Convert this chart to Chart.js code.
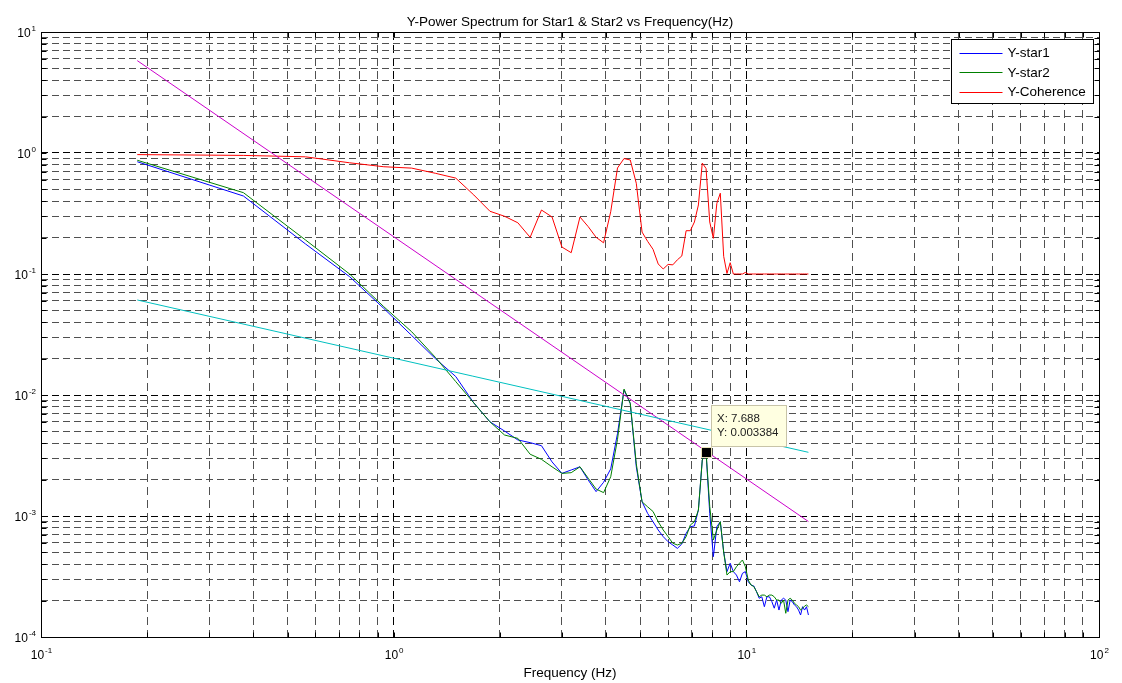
<!DOCTYPE html>
<html>
<head>
<meta charset="utf-8">
<title>Y-Power Spectrum for Star1 &amp; Star2</title>
<script src="https://cdn.jsdelivr.net/npm/chart.js@4.4.1/dist/chart.umd.min.js"></script>
<style>
  html, body { margin: 0; padding: 0; background: #fff; }
  #wrap { width: 1122px; height: 683px; position: relative; }
</style>
</head>
<body>
<div id="wrap"><canvas id="psd"></canvas></div>
<script>
// ===================== DATA ===================== //
// frequency bins (Hz)
const freq = [
  0.1875, 0.375, 0.5625, 0.75, 0.9375, 1.125, 1.3125, 1.5, 1.6875, 1.875,
  2.0625, 2.25, 2.4375, 2.625, 2.8125, 3.0, 3.1875, 3.375, 3.5625, 3.75,
  3.9375, 4.125, 4.3125, 4.5, 4.6875, 4.875, 5.0625, 5.25, 5.4375, 5.625,
  5.8125, 6.0, 6.1875, 6.375, 6.5625, 6.75, 6.9375, 7.125, 7.3125, 7.5,
  7.6875, 7.875, 8.0625, 8.25, 8.4375, 8.625, 8.8125, 9.0, 9.1875, 9.375,
  9.5625, 9.75, 9.9375, 10.125, 10.3125, 10.5, 10.6875, 10.875, 11.0625, 11.25,
  11.4375, 11.625, 11.8125, 12.0, 12.1875, 12.375, 12.5625, 12.75, 12.9375, 13.125,
  13.3125, 13.5, 13.6875, 13.875, 14.0625, 14.25, 14.4375, 14.625, 14.8125, 15.0
];

// Y-star1 (azul)
const star1 = [
  0.847, 0.441, 0.177, 0.095, 0.052, 0.031, 0.020, 0.0142, 0.0086, 0.0060,
  0.00504, 0.00425, 0.00404, 0.00381, 0.0028, 0.00225, 0.0024, 0.00255, 0.00198, 0.00159,
  0.0019, 0.00245, 0.0048, 0.011, 0.0085, 0.00255, 0.00131, 0.00105, 0.000897, 0.000766,
  0.000675, 0.000613, 0.000576, 0.00054, 0.000587, 0.000719, 0.000816, 0.000827, 0.00112, 0.0029,
  0.003384, 0.00105, 0.000461, 0.000816, 0.000897, 0.000504, 0.000347, 0.000407, 0.000347, 0.000325,
  0.000286, 0.000336, 0.000347, 0.000286, 0.000269, 0.000264, 0.000237, 0.000209, 0.000215, 0.000178,
  0.000215, 0.000215, 0.000196, 0.000173, 0.000202, 0.000167, 0.000202, 0.000209, 0.000202, 0.000162,
  0.000202, 0.000196, 0.000184, 0.000178, 0.000167, 0.000152, 0.000178, 0.000167, 0.000178, 0.000152
];

// Y-star2 (verde)
const star2 = [
  0.871, 0.470, 0.191, 0.100, 0.0537, 0.0333, 0.0205, 0.0129, 0.0086, 0.0060,
  0.00467, 0.00438, 0.00324, 0.00294, 0.00255, 0.00225, 0.00228, 0.00255, 0.00205, 0.00167,
  0.00156, 0.00211, 0.0043, 0.0112, 0.0085, 0.0027, 0.00131, 0.00119, 0.00109, 0.000897,
  0.000766, 0.000675, 0.000595, 0.000576, 0.000595, 0.000675, 0.000843, 0.000897, 0.00112, 0.0029,
  0.003384, 0.0012, 0.000634, 0.000766, 0.000897, 0.000504, 0.000325, 0.000347, 0.000347, 0.000381,
  0.000407, 0.000433, 0.000381, 0.000296, 0.000269, 0.000261, 0.000237, 0.000215, 0.000222, 0.000222,
  0.000215, 0.000222, 0.000222, 0.000215, 0.000202, 0.000202, 0.00019, 0.000202, 0.000157, 0.000202,
  0.000209, 0.000202, 0.00019, 0.000184, 0.000178, 0.000167, 0.000173, 0.00018, 0.000184, 0.000178
];

// Y-Coherence (vermelho)
const coherence = [
  0.97, 0.955, 0.93, 0.83, 0.77, 0.75, 0.68, 0.62, 0.45, 0.33,
  0.30, 0.265, 0.201, 0.338, 0.296, 0.167, 0.150, 0.296, 0.246, 0.201,
  0.181, 0.327, 0.752, 0.90, 0.875, 0.562, 0.222, 0.186, 0.16, 0.121,
  0.110, 0.120, 0.119, 0.131, 0.141, 0.228, 0.228, 0.269, 0.372, 0.826,
  0.745, 0.269, 0.197, 0.384, 0.465, 0.14, 0.101, 0.124, 0.1, 0.1,
  0.1, 0.1, 0.103, 0.1, 0.1, 0.1, 0.1, 0.1, 0.1, 0.1,
  0.1, 0.1, 0.1, 0.1, 0.1, 0.1, 0.1, 0.1, 0.1, 0.1,
  0.1, 0.1, 0.1, 0.1, 0.1, 0.1, 0.1, 0.1, 0.1, 0.1
];

// retas de referência (magenta e ciano)
const refFreq = [0.1875, 15.0];
const slopeRef = [5.8, 0.0009];
const noiseRef = [0.061, 0.00336];

// eixos: expoentes das décadas
const xTickExps = [-1, 0, 1, 2];
const yTickExps = [-4, -3, -2, -1, 0, 1];

// data tip
const tipX = 7.6875;
const tipY = 0.003384;
const tipLabels = ['X: 7.688', 'Y: 0.003384'];

const TITLE = 'Y-Power Spectrum for Star1 & Star2 vs Frequency(Hz)';
const XLABEL = 'Frequency (Hz)';
const FONT = '"Liberation Sans", Arial, Helvetica, sans-serif';

// ===================== HELPERS ===================== //
function toPoints(xs, ys) {
  return xs.map((x, i) => ({ x: x, y: ys[i] }));
}

// 1..9 x 10^n em cada década
function logTicks(exps) {
  const ticks = [];
  exps.forEach((e, i) => {
    ticks.push({ value: Math.pow(10, e), major: true });
    if (i < exps.length - 1) {
      for (let m = 2; m <= 9; m++) ticks.push({ value: m * Math.pow(10, e), major: false });
    }
  });
  return ticks;
}

function logAxis(exps, dash) {
  return {
    type: 'logarithmic',
    min: Math.pow(10, exps[0]),
    max: Math.pow(10, exps[exps.length - 1]),
    afterBuildTicks: s => { s.ticks = logTicks(exps); },
    ticks: { display: false },
    grid: {
      drawTicks: false,
      lineWidth: 1,
      color: c => (c.tick && c.tick.major ? '#000' : '#505050')
    },
    border: { display: false, dash: dash }
  };
}

// "10" + expoente sobrescrito
function drawPow(ctx, e, px, py, mode) {
  const base = '10', sup = String(e);
  ctx.font = '12px ' + FONT;
  const wb = ctx.measureText(base).width;
  ctx.font = '8px ' + FONT;
  const ws = ctx.measureText(sup).width;
  let left, baseY, supY;
  if (mode === 'x') {
    left = px - (wb + ws) / 2;
    baseY = py + 22;
    supY = py + 16;
  } else {
    left = px - 6 - (wb + ws);
    baseY = py + 4.5;
    supY = py - 1;
  }
  ctx.textAlign = 'left';
  ctx.textBaseline = 'alphabetic';
  ctx.font = '12px ' + FONT;
  ctx.fillText(base, left, baseY);
  ctx.font = '8px ' + FONT;
  ctx.fillText(sup, left + wb + 1, supY);
}

// ===================== PLUGIN (visual MATLAB) ===================== //
const matlabLook = {
  id: 'matlabLook',
  afterDatasetsDraw(chart) {
    const { ctx, chartArea: a, scales } = chart;
    const xs = scales.x, ys = scales.y;
    const L = Math.round(a.left) + 0.5, R = Math.round(a.right) + 0.5;
    const T = Math.round(a.top) + 0.5, B = Math.round(a.bottom) + 0.5;
    ctx.save();
    ctx.setLineDash([]);
    ctx.strokeStyle = '#000';
    ctx.lineWidth = 1;

    // marcas internas
    ctx.beginPath();
    xs.ticks.forEach(t => {
      const px = Math.round(xs.getPixelForValue(t.value)) + 0.5;
      ctx.moveTo(px, B); ctx.lineTo(px, B - 5);
      ctx.moveTo(px, T); ctx.lineTo(px, T + 5);
    });
    ys.ticks.forEach(t => {
      const py = Math.round(ys.getPixelForValue(t.value)) + 0.5;
      ctx.moveTo(L, py); ctx.lineTo(L + 5, py);
      ctx.moveTo(R, py); ctx.lineTo(R - 5, py);
    });
    ctx.stroke();

    // caixa dos eixos
    ctx.strokeRect(L, T, R - L, B - T);

    // rótulos dos eixos
    ctx.fillStyle = '#000';
    xTickExps.forEach(e => drawPow(ctx, e, xs.getPixelForValue(Math.pow(10, e)), a.bottom, 'x'));
    yTickExps.forEach(e => drawPow(ctx, e, a.left, ys.getPixelForValue(Math.pow(10, e)), 'y'));

    const cx = (a.left + a.right) / 2;
    ctx.font = '13.5px ' + FONT;
    ctx.textAlign = 'center';
    ctx.fillText(TITLE, cx, a.top - 6);
    ctx.fillText(XLABEL, cx, a.bottom + 40);

    // data tip
    const tx = xs.getPixelForValue(tipX), ty = ys.getPixelForValue(tipY);
    ctx.fillStyle = '#ffffe1';
    ctx.strokeStyle = '#c8c4a8';
    ctx.fillRect(Math.round(tx) + 5.5, Math.round(ty) - 46.5, 75, 41);
    ctx.strokeRect(Math.round(tx) + 5.5, Math.round(ty) - 46.5, 75, 41);
    ctx.fillStyle = '#e8e2b8';
    ctx.fillRect(Math.round(tx) - 5, Math.round(ty) - 5, 11, 11);
    ctx.fillStyle = '#000';
    ctx.fillRect(Math.round(tx) - 4, Math.round(ty) - 4, 9, 9);
    ctx.fillStyle = '#222';
    ctx.font = '11.5px ' + FONT;
    ctx.textAlign = 'left';
    ctx.fillText(tipLabels[0], tx + 11, ty - 30);
    ctx.fillText(tipLabels[1], tx + 11, ty - 16);

    // legenda
    const items = chart.data.datasets.filter(d => d.label);
    const bw = 142, bh = 64;
    const bx = Math.round(a.right) - 6 - bw + 0.5, by = Math.round(a.top) + 7 + 0.5;
    ctx.fillStyle = '#fff';
    ctx.strokeStyle = '#000';
    ctx.fillRect(bx, by, bw, bh);
    ctx.strokeRect(bx, by, bw, bh);
    ctx.font = '13.5px ' + FONT;
    items.forEach((d, i) => {
      const rowY = by + 13 + i * 19.5;
      ctx.strokeStyle = d.borderColor;
      ctx.beginPath();
      ctx.moveTo(bx + 8, Math.round(rowY) + 0.5);
      ctx.lineTo(bx + 51, Math.round(rowY) + 0.5);
      ctx.stroke();
      ctx.fillStyle = '#000';
      ctx.textBaseline = 'middle';
      ctx.fillText(d.label, bx + 56, rowY + 1);
    });
    ctx.restore();
  }
};

// ===================== GRÁFICO ===================== //
const lineStyle = { borderWidth: 1, pointRadius: 0, fill: false, tension: 0 };

const chart = new Chart(document.getElementById('psd').getContext('2d'), {
  type: 'line',
  data: {
    datasets: [
      Object.assign({ label: 'Y-star1', data: toPoints(freq, star1), borderColor: '#0000ff', order: 5 }, lineStyle),
      Object.assign({ label: 'Y-star2', data: toPoints(freq, star2), borderColor: '#008000', order: 4 }, lineStyle),
      Object.assign({ label: 'Y-Coherence', data: toPoints(freq, coherence), borderColor: '#ff0000', order: 3 }, lineStyle),
      Object.assign({ label: '', data: toPoints(refFreq, slopeRef), borderColor: '#cc00cc', order: 2 }, lineStyle),
      Object.assign({ label: '', data: toPoints(refFreq, noiseRef), borderColor: '#00c0c0', order: 1 }, lineStyle)
    ]
  },
  options: {
    responsive: true,
    maintainAspectRatio: false,
    animation: false,
    devicePixelRatio: 1,
    layout: { padding: { left: 41, right: 23, top: 32, bottom: 46 } },
    plugins: {
      legend: { display: false },
      title: { display: false },
      tooltip: { enabled: false }
    },
    scales: {
      x: logAxis(xTickExps, [8, 5]),
      y: logAxis(yTickExps, [7, 4])
    }
  },
  plugins: [matlabLook]
});
</script>
</body>
</html>
